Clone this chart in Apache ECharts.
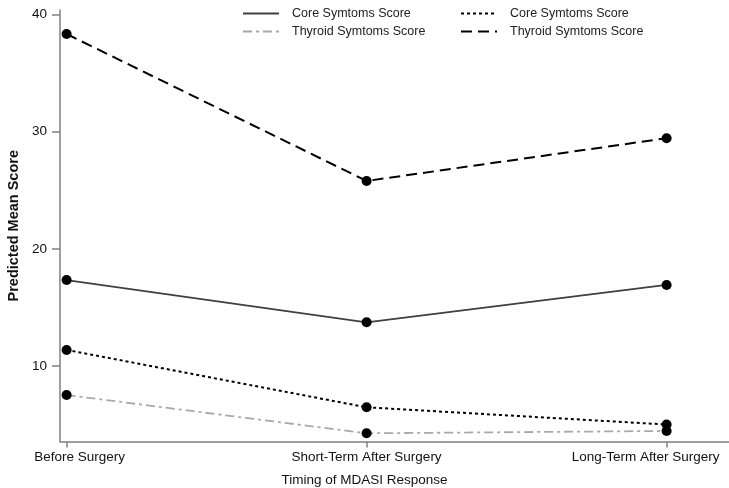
<!DOCTYPE html>
<html>
<head>
<meta charset="utf-8">
<script src="https://cdn.jsdelivr.net/npm/echarts@6/dist/echarts.min.js"></script>
<style>
  html, body { margin: 0; padding: 0; background: #fff; }
  #chart { width: 729px; height: 488px; }
</style>
</head>
<body>
<div id="chart"></div>
<script>
// Time points of the MDASI response
const timepoints = ['Before Surgery', 'Short-Term After Surgery', 'Long-Term After Surgery'];
const yTicks = [10, 20, 30, 40];

// Predicted mean scores per time point
const coreSolid = [17.34, 13.73, 16.92];
const coreDotted = [11.37, 6.47, 5.0];
const thyroidDashDot = [7.52, 4.25, 4.45];
const thyroidDashed = [38.35, 25.8, 29.45];

const legendLabels = {
  coreA: 'Core Symtoms Score',
  coreB: 'Core Symtoms Score',
  thyA: 'Thyroid Symtoms Score',
  thyB: 'Thyroid Symtoms Score'
};

const font = 'Liberation Sans, Arial, sans-serif';
const toPairs = vals => vals.map((v, i) => [i + 1, v]);

function lineSeries(name, vals, color, width, dash) {
  return {
    name: name,
    type: 'line',
    data: toPairs(vals),
    symbol: 'none',
    showSymbol: false,
    lineStyle: { color: color, width: width, type: dash },
    itemStyle: { color: color },
    z: 2
  };
}

function dotSeries(vals) {
  return {
    type: 'scatter',
    data: toPairs(vals),
    symbol: 'circle',
    symbolSize: 10,
    itemStyle: { color: '#000', opacity: 1 },
    silent: true,
    z: 3
  };
}

function legendColumn(names, left) {
  return {
    data: names,
    orient: 'vertical',
    left: left, top: 7,
    padding: 0,
    itemWidth: 36, itemHeight: 14, itemGap: 5,
    itemStyle: { opacity: 0, borderWidth: 0 },
    formatter: n => legendLabels[n],
    textStyle: { fontFamily: font, fontSize: 12.5, color: '#222', padding: [0, 0, 0, 8] },
    selectedMode: false
  };
}

// edge labels are nudged inward so they stay inside the canvas
const labelRich = {
  first: { fontFamily: font, fontSize: 13.5, color: '#111', padding: [0, 0, 0, 26] },
  mid: { fontFamily: font, fontSize: 13.5, color: '#111' },
  last: { fontFamily: font, fontSize: 13.5, color: '#111', padding: [0, 42, 0, 0] }
};

const chart = echarts.init(document.getElementById('chart'));
chart.setOption({
  animation: false,
  backgroundColor: '#fff',
  grid: { left: 60, right: 0, top: 10, bottom: 46.5, containLabel: false, outerBoundsMode: 'none' },
  legend: [
    legendColumn(['coreA', 'thyA'], 242),
    legendColumn(['coreB', 'thyB'], 460)
  ],
  xAxis: {
    type: 'value',
    min: 0.978,
    max: 3.208,
    splitLine: { show: false },
    axisLine: { show: true, lineStyle: { color: '#808080', width: 1.5 } },
    axisTick: { show: true, customValues: [1, 2, 3], length: 6, lineStyle: { color: '#808080', width: 1.5 } },
    axisLabel: {
      customValues: [1, 2, 3],
      formatter: v => {
        const i = Math.round(v) - 1;
        const key = i === 0 ? 'first' : (i === timepoints.length - 1 ? 'last' : 'mid');
        return '{' + key + '|' + timepoints[i] + '}';
      },
      rich: labelRich,
      margin: 9,
      hideOverlap: false
    }
  },
  yAxis: {
    type: 'value',
    min: 3.55,
    max: 40.4,
    splitLine: { show: false },
    axisLine: { show: true, lineStyle: { color: '#808080', width: 1.5 } },
    axisTick: { show: true, customValues: yTicks, length: 8, lineStyle: { color: '#808080', width: 1.5 } },
    axisLabel: {
      customValues: yTicks,
      fontFamily: font, fontSize: 13.5, color: '#111', margin: 13
    },
    name: 'Predicted Mean Score',
    nameLocation: 'middle',
    nameGap: 38,
    nameTextStyle: { fontFamily: font, fontSize: 14.5, fontWeight: 'bold', color: '#111' }
  },
  graphic: [
    {
      type: 'text',
      left: 'center',
      top: 473,
      x: 366 - 364.5,
      style: {
        text: 'Timing of MDASI Response',
        font: '13.5px ' + font,
        fill: '#111'
      }
    }
  ],
  series: [
    lineSeries('coreA', coreSolid, '#404040', 1.8, 'solid'),
    lineSeries('coreB', coreDotted, '#000', 2, [3, 3]),
    lineSeries('thyA', thyroidDashDot, '#a8a8a8', 1.8, [9, 4, 3, 4]),
    lineSeries('thyB', thyroidDashed, '#000', 2, [11, 6]),
    dotSeries(coreSolid),
    dotSeries(coreDotted),
    dotSeries(thyroidDashDot),
    dotSeries(thyroidDashed)
  ]
});
</script>
</body>
</html>
